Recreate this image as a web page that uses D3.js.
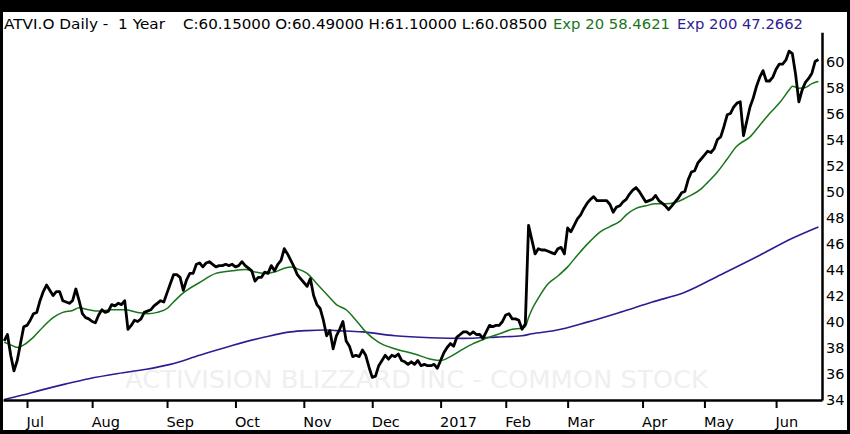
<!DOCTYPE html>
<html><head><meta charset="utf-8">
<script src="https://cdn.jsdelivr.net/npm/d3@7"></script>
<style>
html,body{margin:0;padding:0;background:#000;}
svg{display:block;}
text{white-space:pre;}
</style></head><body>
<svg id="c" width="850" height="434"></svg>
<script>
// ---- data ----
const closeValues = [
38.5,39.0,37.4,36.2,37.0,38.3,39.6,39.7,40.1,40.6,
40.7,41.6,42.3,42.8,42.4,42.0,42.3,42.3,41.6,41.5,
41.4,41.6,42.5,41.6,40.6,40.3,40.2,40.0,39.9,40.5,
40.9,40.7,40.8,41.3,41.2,41.4,41.3,41.6,39.4,39.7,
40.1,40.0,40.2,40.7,40.8,40.9,41.2,41.4,41.6,41.5,
42.2,42.9,43.6,43.6,43.4,42.4,43.2,43.7,43.7,44.4,
44.5,44.2,44.5,44.6,44.4,44.2,44.3,44.3,44.4,44.3,
44.4,44.2,44.3,44.6,44.3,44.1,43.9,43.1,43.4,43.4,
43.8,43.7,44.3,43.9,44.4,44.7,45.6,45.2,44.7,44.2,
43.6,43.3,43.0,42.7,43.3,42.0,41.3,41.0,40.1,38.9,
39.3,37.9,38.9,39.4,40.0,38.5,38.1,37.3,37.4,37.3,
37.8,37.4,36.5,35.7,35.8,36.6,37.0,37.4,37.1,37.4,
37.3,37.5,37.0,36.9,36.7,36.9,36.7,37.0,36.6,36.7,
36.6,36.6,36.7,36.4,37.0,37.6,38.0,38.3,38.1,38.8,
39.0,39.2,39.2,39.0,39.2,39.0,39.0,38.7,39.2,39.7,
39.6,39.7,39.7,40.0,40.5,40.6,40.2,40.2,40.1,39.4,
39.8,47.4,46.3,45.2,45.6,45.5,45.5,45.4,45.3,45.2,
45.6,45.7,45.2,47.2,46.9,47.4,47.9,48.2,48.7,49.1,
49.4,49.6,49.3,49.3,49.3,49.3,49.0,48.4,48.8,48.9,
49.2,49.4,49.8,50.1,50.3,50.0,49.6,49.2,49.3,49.4,
49.7,49.3,49.1,48.9,48.6,48.9,49.2,49.5,49.9,50.0,
50.9,51.5,51.6,52.2,52.5,52.8,53.1,53.0,53.3,54.0,
54.2,55.0,55.9,56.0,56.5,56.8,56.9,54.3,55.4,56.5,
57.2,58.1,58.8,59.3,58.5,58.5,58.8,59.4,59.8,59.8,
60.1,60.8,60.6,59.0,56.9,57.8,58.4,58.7,59.1,60.0,
60.15
];
const ema20Idx = [0,2,4,6,9,12,15,18,21,23,26,29,33,37,41,44,47,50,52,55,60,65,70,74,77,80,83,86,88,90,93,96,99,102,105,108,111,115,120,126,131,134,137,141,144,148,152,156,159,160,161,162,164,167,170,173,176,180,183,186,189,191,194,197,200,203,206,210,214,216,219,222,225,226,229,232,235,238,241,242,244,246,248,250];
const ema20Val = [38.4,38.2,38.0,38.2,38.8,39.6,40.3,40.7,40.85,41.05,40.9,40.8,40.9,40.9,40.7,40.6,40.7,41.0,41.5,42.2,43.0,43.7,43.9,44.0,43.8,43.7,43.8,44.1,44.2,44.05,43.7,42.9,42.1,41.3,40.9,40.1,39.2,38.4,37.9,37.5,37.1,37.0,37.3,37.9,38.3,38.7,39.05,39.4,39.5,39.6,40.3,40.9,41.8,42.9,43.5,44.2,45.1,46.2,46.9,47.3,47.7,48.2,48.7,48.9,49.05,49.05,49.15,49.6,50.2,50.7,51.5,52.5,53.5,53.7,54.2,55.1,56.0,56.8,57.8,58.1,57.95,58.0,58.3,58.46];
const ema200Idx = [0,5,11,19,26,35,43,51,60,70,80,88,93,98,102,110,120,131,141,151,159,162,169,179,189,199,209,220,232,242,250];
const ema200Val = [34.0,34.3,34.7,35.2,35.6,36.0,36.3,36.7,37.4,38.15,38.8,39.2,39.3,39.35,39.3,39.2,38.9,38.75,38.7,38.8,38.9,39.05,39.3,39.95,40.7,41.5,42.25,43.6,45.1,46.4,47.27];
const monthLabels = ["Jul","Aug","Sep","Oct","Nov","Dec","2017","Feb","Mar","Apr","May","Jun"];
const monthStartIdx = [7,27,50,71,92,113,134,154,173,196,215,237];
const yTicks = [34,36,38,40,42,44,46,48,50,52,54,56,58,60];
const titleMain = "ATVI.O Daily -  1 Year";
const titleOHLC = "C:60.15000 O:60.49000 H:61.10000 L:60.08500";
const titleEma20 = "Exp 20 58.4621";
const titleEma200 = "Exp 200 47.2662";
const watermark = "ACTIVISION BLIZZARD INC - COMMON STOCK";

// ---- drawing ----
const svg = d3.select("#c");
const FONT = "'DejaVu Sans', Verdana, sans-serif";
const GREEN = "#18751a", PURPLE = "#2e1c92";

svg.append("rect").attr("x",3).attr("y",12).attr("width",844).attr("height",418).attr("fill","#fff");

const x = d3.scaleLinear().domain([-0.37, 251.1]).range([3, 822]);
const y = d3.scaleLinear().domain([33.96, 62.25]).range([400, 32.25]);

// watermark
svg.append("text").attr("x",125).attr("y",388).attr("font-family",FONT).attr("font-size",25)
  .attr("fill","#efefef").attr("textLength",583).attr("lengthAdjust","spacingAndGlyphs").text(watermark);

// header
const hdr = svg.append("g").attr("font-family",FONT).attr("font-size",14);
hdr.append("text").attr("x",4).attr("y",29).attr("fill","#000").attr("textLength",161).attr("lengthAdjust","spacingAndGlyphs").text(titleMain);
hdr.append("text").attr("x",183).attr("y",29).attr("fill","#000").attr("textLength",364).attr("lengthAdjust","spacingAndGlyphs").text(titleOHLC);
hdr.append("text").attr("x",553).attr("y",29).attr("fill",GREEN).attr("textLength",117).attr("lengthAdjust","spacingAndGlyphs").text(titleEma20);
hdr.append("text").attr("x",677).attr("y",29).attr("fill",PURPLE).attr("textLength",126).attr("lengthAdjust","spacingAndGlyphs").text(titleEma200);

// lines
const line = d3.line().x(d=>x(d[0])).y(d=>y(d[1]));
const smooth = d3.line().x(d=>x(d[0])).y(d=>y(d[1])).curve(d3.curveMonotoneX);
svg.append("path").datum(ema200Idx.map((d,i)=>[d,ema200Val[i]]))
  .attr("d",smooth).attr("fill","none").attr("stroke",PURPLE).attr("stroke-width",1.6);
svg.append("path").datum(ema20Idx.map((d,i)=>[d,ema20Val[i]]))
  .attr("d",smooth).attr("fill","none").attr("stroke",GREEN).attr("stroke-width",1.5);
svg.append("path").datum(closeValues.map((v,i)=>[i,v]))
  .attr("d",line).attr("fill","none").attr("stroke","#000").attr("stroke-width",2.8)
  .attr("stroke-linejoin","round");

// x axis
const xa = svg.append("g").attr("transform","translate(0,400)")
  .call(d3.axisBottom(x).tickValues(monthStartIdx).tickFormat((d,i)=>monthLabels[i]).tickSize(8).tickSizeOuter(0).tickPadding(9));
xa.select(".domain").attr("stroke","#000").attr("stroke-width",2.5);
xa.selectAll(".tick line").attr("stroke","#000").attr("stroke-width",2);
xa.selectAll(".tick text").attr("text-anchor","start").attr("x",-1).attr("font-family",FONT).attr("font-size",14.5).attr("fill","#000");

// y axis (right)
const ya = svg.append("g").attr("transform","translate(822,0)")
  .call(d3.axisRight(y).tickValues(yTicks).tickSize(0).tickSizeOuter(0).tickPadding(4));
ya.select(".domain").attr("stroke","#000").attr("stroke-width",2.5);
ya.selectAll(".tick text").attr("font-family",FONT).attr("font-size",14.5).attr("fill","#000");
</script>
</body></html>
